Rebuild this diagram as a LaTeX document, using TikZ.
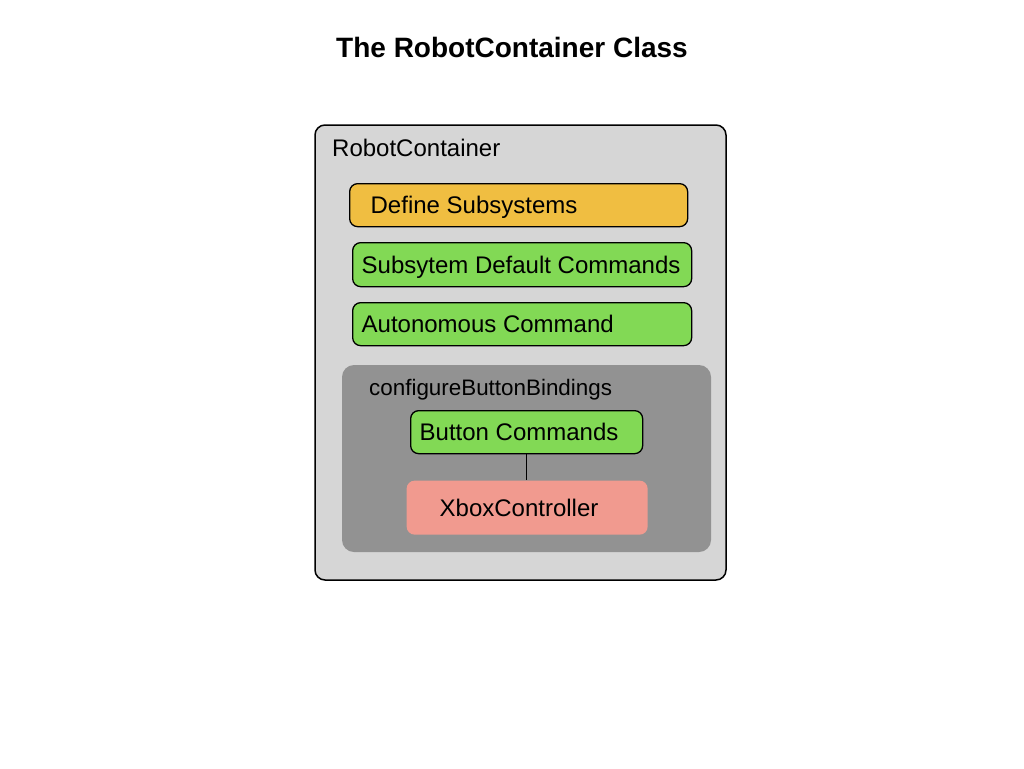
\documentclass[tikz,border=0pt]{standalone}
\usepackage{fontspec}
\setmainfont{Liberation Sans}
\definecolor{outerfill}{HTML}{D6D6D6}
\definecolor{innerfill}{HTML}{929292}
\definecolor{orangefill}{HTML}{F0BE41}
\definecolor{greenfill}{HTML}{82D955}
\definecolor{salmonfill}{HTML}{F19A8F}
\tikzset{
  box/.style={draw=black, line width=1.3pt, rounded corners=8pt, anchor=north west,
    inner ysep=0pt, text height=17pt, text depth=0pt, font=\fontsize{24}{28}\selectfont},
  lbl/.style={anchor=base west, inner sep=0pt},
}
\begin{document}
\begin{tikzpicture}[x=1pt,y=-1pt]
\fill[white] (0,0) rectangle (1024,768);
\useasboundingbox (0,0) rectangle (1024,768);
\node[font=\bfseries\fontsize{28}{32}\selectfont] (title) at (512,47) {The RobotContainer Class};
\draw[fill=outerfill, line width=1.5pt, rounded corners=10pt] (315,125) rectangle (726,580);
\node[lbl, font=\fontsize{24}{28}\selectfont] (rc) at (332,156) {RobotContainer};
\node[box, fill=orangefill, inner xsep=21pt, minimum height=43pt] (ds) at (349,183) {\makebox[296pt][l]{Define Subsystems}};
\node[box, fill=greenfill, inner xsep=9pt, minimum height=44pt] (sdc) at (352,242) {\makebox[321pt][l]{Subsytem Default Commands}};
\node[box, fill=greenfill, inner xsep=9pt, minimum height=43pt] (ac) at (352,302) {\makebox[321pt][l]{Autonomous Command}};
\fill[innerfill, rounded corners=12pt] (342,365) rectangle (711,552);
\node[lbl, font=\fontsize{22.4}{26}\selectfont] (cbb) at (369,395) {configureButtonBindings};
\node[box, fill=greenfill, inner xsep=9pt, minimum height=43pt] (bc) at (410,410) {\makebox[214pt][l]{Button Commands}};
\node[box, draw=none, fill=salmonfill, inner xsep=33pt, minimum height=54pt] (xb) at (406,480) {\makebox[175pt][l]{XboxController}};
\draw[line width=1.4pt] (bc.south) -- (bc.south |- xb.north);
\end{tikzpicture}
\end{document}
